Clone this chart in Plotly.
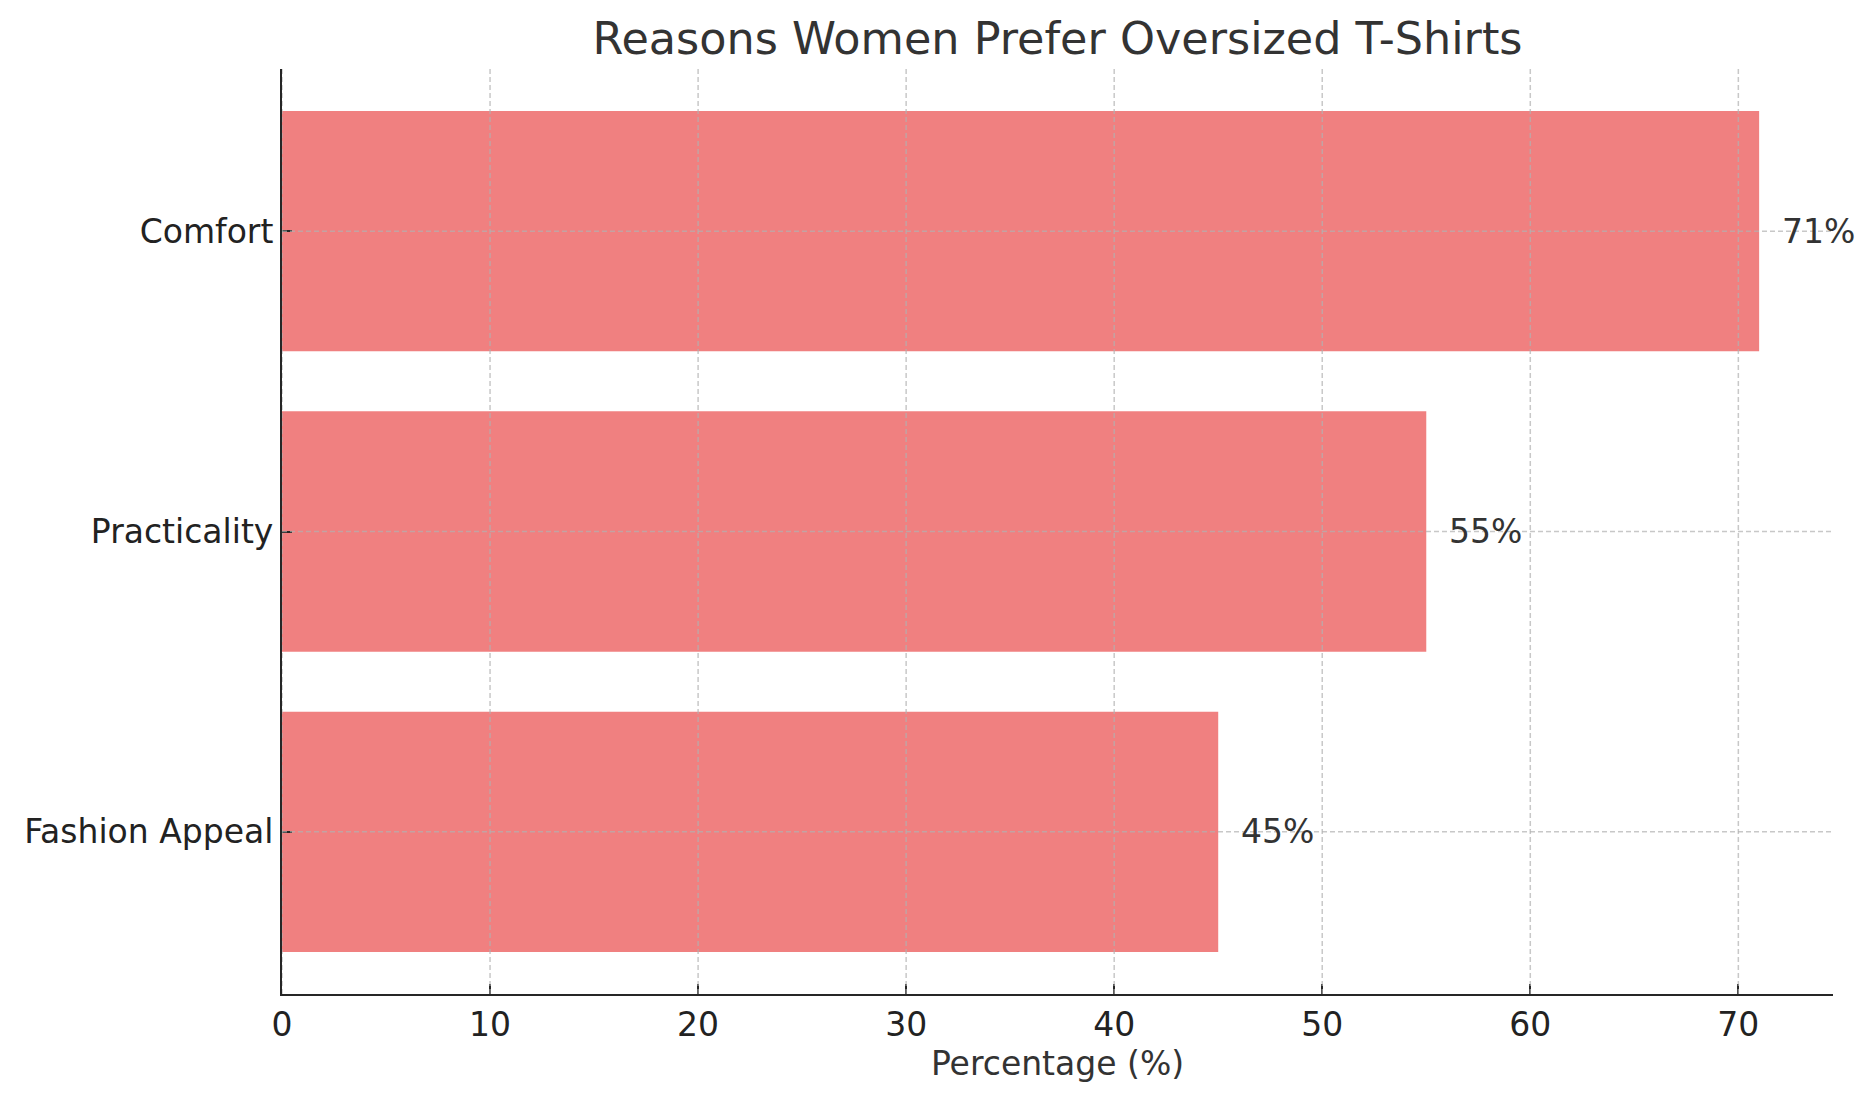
import plotly.graph_objects as go

categories = ["Fashion Appeal", "Practicality", "Comfort"]
percentages = [45, 55, 71]
x_ticks = [0, 10, 20, 30, 40, 50, 60, 70]

title_text = "Reasons Women Prefer Oversized T-Shirts"
x_label = "Percentage (%)"

FONT = "DejaVu Sans"
GRID = "rgba(176,176,176,0.7)"
AXIS = "#262626"

fig = go.Figure()
fig.add_trace(go.Bar(
    x=percentages,
    y=categories,
    orientation="h",
    width=0.8,
    marker=dict(color="#F08080", line=dict(width=0)),
    hoverinfo="skip",
))

# grid lines drawn above bars, as in the reference
for t in x_ticks:
    fig.add_vline(x=t, line=dict(color=GRID, width=1.5, dash="5px,3px"), layer="above")
for c in categories:
    fig.add_hline(y=c, line=dict(color=GRID, width=1.5, dash="5px,3px"), layer="above")

for c, v in zip(categories, percentages):
    fig.add_annotation(
        x=v + 1, y=c, text=f"{v}%", showarrow=False,
        xanchor="left", yanchor="middle",
        font=dict(family=FONT, size=33, color="#333333"),
    )

fig.update_layout(
    width=1872, height=1101,
    margin=dict(l=282, r=39, t=69, b=107),
    paper_bgcolor="white", plot_bgcolor="white",
    showlegend=False,
    title=dict(
        text=title_text, x=0.5, xref="paper", xanchor="center",
        y=1 - 38 / 1101, yref="container", yanchor="middle",
        font=dict(family=FONT, size=44.5, color="#333333"),
    ),
    font=dict(family=FONT, size=33, color="#222222"),
)

fig.update_xaxes(
    range=[0, 74.55],
    tickvals=x_ticks,
    ticktext=[str(t) for t in x_ticks],
    ticks="inside", ticklen=10, tickwidth=2, tickcolor=AXIS,
    showline=True, linecolor=AXIS, linewidth=2,
    showgrid=False, zeroline=False,
    tickfont=dict(family=FONT, size=33, color="#222222"),
    title=dict(text=x_label, font=dict(family=FONT, size=33, color="#333333"), standoff=7),
)
fig.update_yaxes(
    type="category",
    categoryorder="array", categoryarray=categories,
    range=[-0.54, 2.54],
    ticks="inside", ticklen=10, tickwidth=2, tickcolor=AXIS,
    showline=True, linecolor=AXIS, linewidth=2,
    showgrid=False, zeroline=False,
    tickfont=dict(family=FONT, size=33, color="#222222"),
)

fig.write_html("out.html")
